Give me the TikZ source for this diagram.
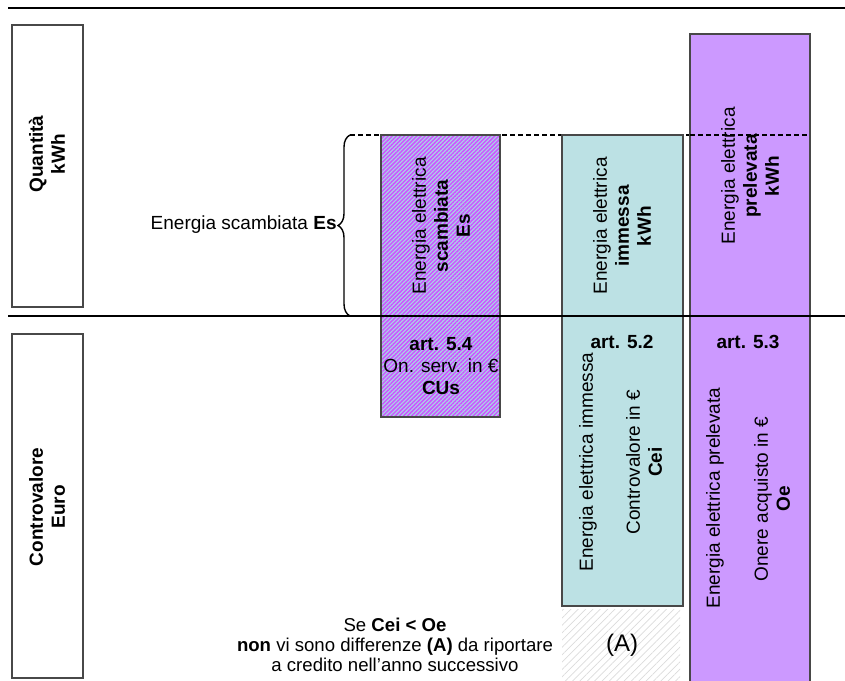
\documentclass[tikz,border=0pt]{standalone}
\usepackage{fontspec}
\setmainfont{Liberation Sans}
\usepackage{xcolor}
\usepackage{tikz}
\usetikzlibrary{calc, patterns.meta, decorations.pathreplacing, positioning}

\definecolor{viola}{HTML}{CC99FF}
\definecolor{violarighe}{HTML}{CC55FF}
\definecolor{azzurro}{HTML}{BCE1E4}
\definecolor{celeste}{HTML}{A9D4E6}
\definecolor{bordo}{HTML}{484848}

\tikzset{
    barra/.style={draw=bordo, line width=0.75pt},
    etich/.style={font=\fontsize{9.5}{11}\selectfont, align=center, inner sep=0pt},
    vert/.style={etich, rotate=90},
    titolo/.style={draw=bordo, line width=1.4pt},
}

\begin{document}
\begin{tikzpicture}[x=0.5pt, y=-0.5pt]
                \useasboundingbox (0,0) rectangle (845,680);

                % 1. Riquadri dei titoli a sinistra
                \draw[titolo] (12,25) rectangle (83,307);
                \draw[titolo] (12,334) rectangle (83,678);
                \node[vert, font=\fontsize{9.5}{11}\selectfont\bfseries] (quant) at (47,154) {Quantità\\kWh};
                \node[vert, font=\fontsize{9.5}{11}\selectfont\bfseries] (contro) at (47,507) {Controvalore\\Euro};

                % 2. Linea tratteggiata del livello Es
                \draw[dashed, dash pattern=on 2.5pt off 1.5pt, line width=0.6pt] (350,135) -- (810,135);

                % 3. Colonne
                \fill[celeste] (381,135) rectangle (500,417);
                \fill[pattern={Lines[angle=45, distance=1.45pt, line width=0.75pt]}, pattern color=violarighe]
                    (381,135) rectangle (500,417);
                \draw[barra] (381,135) rectangle (500,417);
                \draw[barra, fill=azzurro] (562,135) rectangle (683,606);
                \fill[pattern={Lines[angle=45, distance=2.6pt, line width=0.35pt]}, pattern color=black!14]
                    (562,609) rectangle (680,680);
                \draw[barra, fill=viola] (690,34) rectangle (810,690);
                \draw[dashed, dash pattern=on 2.5pt off 1.5pt, line width=0.6pt] (690,135) -- (810,135);

                % 4. Linee orizzontali
                \draw[line width=1pt] (8,8) -- (845,8);
                \draw[line width=1.2pt] (8,316) -- (845,316);

                % 5. Graffa Es
                \coordinate (gb) at (350,316);
                \coordinate (ga) at (350,135);
                \draw[line width=0.7pt, decorate, decoration={brace, amplitude=6pt}] (gb) -- (ga);
                \node[etich, anchor=east] (es) at (337,225) {Energia scambiata \textbf{Es}};

                % 6. Testi nelle colonne (kWh)
                \node[vert] (scamb) at (441,226) {Energia elettrica\\\textbf{scambiata}\\\textbf{Es}};
                \node[vert] (imm) at (622,226) {Energia elettrica\\\textbf{immessa}\\\textbf{kWh}};
                \node[vert] (prel) at (750,176) {Energia elettrica\\\textbf{prelevata}\\\textbf{kWh}};

                % 7. Testi nelle colonne (Euro)
                \node[etich] (cus) at (441,366) {\textbf{art. 5.4}\\On. serv. in €\\\textbf{CUs}};
                \node[etich, font=\fontsize{9.5}{11}\selectfont\bfseries] (art2) at (622,342) {art. 5.2};
                \node[vert] (immeuro) at (588,462) {Energia elettrica immessa};
                \node[vert] (cei) at (644,462) {Controvalore in €\\\textbf{Cei}};
                \node[etich, font=\fontsize{9.5}{11}\selectfont\bfseries] (art3) at (748,342) {art. 5.3};
                \node[vert] (preleuro) at (715,498) {Energia elettrica prelevata};
                \node[vert] (oe) at (772,499) {Onere acquisto in €\\\textbf{Oe}};

                % 8. Differenza (A)
                \node[etich, font=\fontsize{12}{14}\selectfont] (diff) at (622,645) {(A)};
                \node[etich, font=\fontsize{9.3}{10}\selectfont] (nota) at (395,645)
                    {Se \textbf{Cei < Oe}\\\textbf{non} vi sono differenze \textbf{(A)} da riportare\\a credito nell'anno successivo};
            \end{tikzpicture}
\end{document}
